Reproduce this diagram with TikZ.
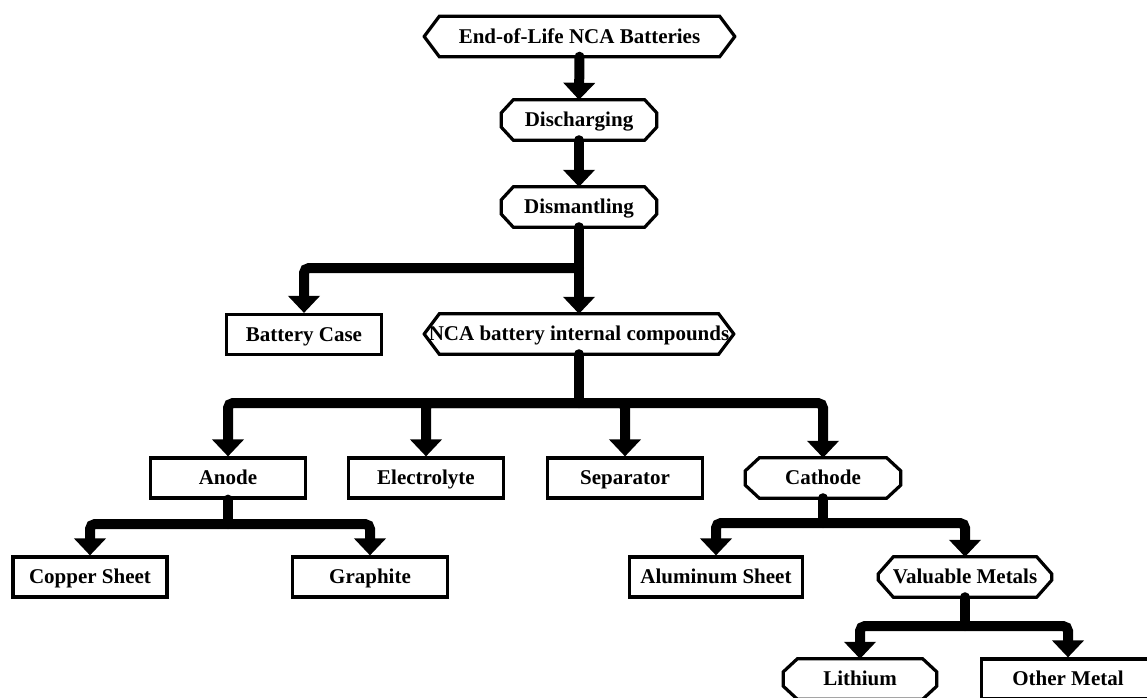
\documentclass[tikz,border=0pt]{standalone}
\usepackage{fontspec}
\setmainfont{Liberation Serif}
\usetikzlibrary{arrows.meta}
\newcommand{\octframe}[3]{%
  \draw[frame] ([xshift=#2]#1.north west) -- ([xshift=-#2]#1.north east)
    -- ([yshift=-#3]#1.north east) -- ([yshift=#3]#1.south east)
    -- ([xshift=-#2]#1.south east) -- ([xshift=#2]#1.south west)
    -- ([yshift=#3]#1.south west) -- ([yshift=-#3]#1.north west) -- cycle;}
\begin{document}
\begin{tikzpicture}[x=1pt,y=-1pt,
  lbl/.style={font=\fontsize{21}{25}\selectfont\bfseries, inner sep=0pt,
    text height=13.9pt, text depth=0pt,
    minimum height=40pt, minimum width=155pt},
  rectbox/.style={lbl, draw, line width=3.2pt},
  frame/.style={line width=3.2pt, line join=miter},
  conn/.style={line width=10pt, line cap=round, rounded corners=5pt,
    -{Triangle[width=31pt,length=17pt]}},
  trunk/.style={line width=10pt, line cap=round}]
\useasboundingbox (0,0) rectangle (1147,697);

% nodes
\node[lbl, minimum width=310pt] (eol) at (579.5,36.5) {End-of-Life NCA Batteries};
\node[lbl] (dis) at (579,120) {Discharging};
\node[lbl] (dism) at (579,207) {Dismantling};
\node[rectbox] (bc) at (304,334.5) {Battery Case};
\node[lbl, minimum width=309pt] (nca) at (579,334) {NCA battery internal compounds};
\node[rectbox] (anode) at (228,478) {Anode};
\node[rectbox] (elec) at (426,478) {Electrolyte};
\node[rectbox] (sep) at (625,478) {Separator};
\node[lbl] (cath) at (823,478) {Cathode};
\node[rectbox, minimum width=154pt] (cu) at (90,577) {Copper Sheet};
\node[rectbox] (gr) at (370,577) {Graphite};
\node[rectbox, minimum width=173pt] (al) at (716,577) {Aluminum Sheet};
\node[lbl, minimum width=173pt] (vm) at (965,577) {Valuable Metals};
\node[lbl, minimum width=153pt] (li) at (860,679) {Lithium};
\node[rectbox, minimum width=173pt] (om) at (1068,679) {Other Metal};

% frames of the non-rectangular boxes
\octframe{eol}{15pt}{20pt}
\octframe{dis}{12pt}{13pt}
\octframe{dism}{12pt}{13pt}
\octframe{nca}{15pt}{20pt}
\octframe{cath}{14pt}{13pt}
\octframe{vm}{15pt}{17pt}
\octframe{li}{14pt}{13pt}

% connectors
\draw[conn] (eol.south) -- (dis.north);
\draw[conn] (dis.south) -- (dism.north);

\coordinate (j1) at (579,268);
\draw[trunk] (dism.south) -- (j1);
\draw[conn] (j1) -- (nca.north);
\draw[conn] (j1) -| (bc.north);

\coordinate (j2) at (579,403);
\draw[trunk] (nca.south) -- (j2);
\foreach \n in {anode,elec,sep,cath} \draw[conn] (j2) -| (\n.north);

\coordinate (j3) at (228,524);
\draw[trunk] (anode.south) -- (j3);
\draw[conn] (j3) -| (cu.north);
\draw[conn] (j3) -| (gr.north);

\coordinate (j4) at (823,523);
\draw[trunk] (cath.south) -- (j4);
\draw[conn] (j4) -| (al.north);
\draw[conn] (j4) -| (vm.north);

\coordinate (j5) at (965,626);
\draw[trunk] (vm.south) -- (j5);
\draw[conn] (j5) -| (li.north);
\draw[conn] (j5) -| (om.north);
\end{tikzpicture}
\end{document}
